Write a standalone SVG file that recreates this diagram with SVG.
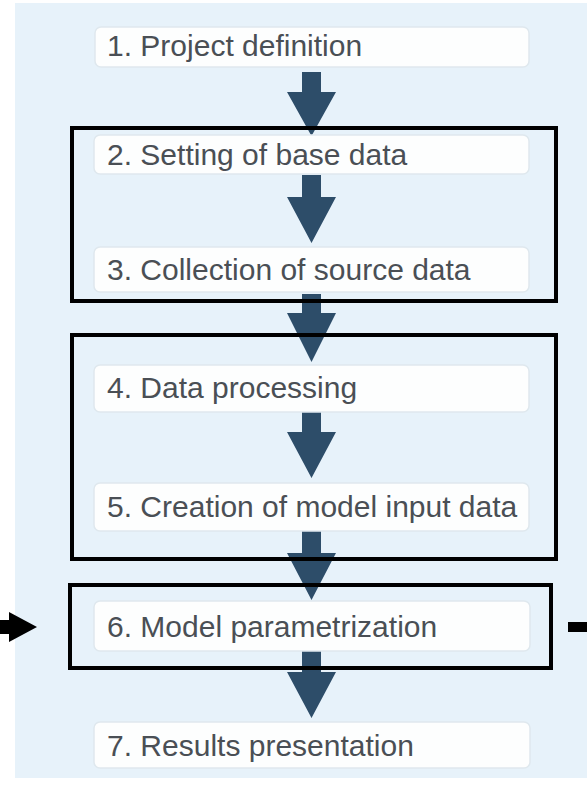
<svg xmlns="http://www.w3.org/2000/svg" width="587" height="788" viewBox="0 0 587 788">
<style>
.step{fill:#fdfefe;stroke:#dfe8ee;stroke-width:1.5}
.lbl{font-family:"Liberation Sans",Arial,sans-serif;font-size:30px;fill:#4a4f55}
.arr{fill:#2d4d69}
.grp{fill:none;stroke:#000;stroke-width:4}
</style>
<rect x="0" y="0" width="587" height="788" fill="#ffffff"/>
<rect x="15" y="3" width="572" height="775" fill="#e7f2fa"/>
<g id="connectors">
<polygon class="arr" points="302,72 321,72 321,92 336,92 311.5,136 287,92 302,92"/>
<polygon class="arr" points="302,175 321,175 321,197 336,197 311.5,243 287,197 302,197"/>
<polygon class="arr" points="302,294 321,294 321,313 336,313 311.5,362 287,313 302,313"/>
<polygon class="arr" points="302,412 321,412 321,432 336,432 311.5,478 287,432 302,432"/>
<polygon class="arr" points="302,531 321,531 321,553 336,553 311.5,600 287,553 302,553"/>
<polygon class="arr" points="302,651 321,651 321,672 336,672 311.5,718 287,672 302,672"/>
<polygon fill="#000" points="0,620 9,620 9,612 37,627 9,642 9,634 0,634"/>
<rect x="568" y="622" width="19" height="10" fill="#000"/>
</g>
<g id="n1"><rect class="step" x="95" y="27" width="434" height="40" rx="6"/><text class="lbl" x="107" y="56">1. Project definition</text></g>
<g id="n2"><rect class="step" x="94" y="135" width="435" height="39" rx="6"/><text class="lbl" x="107" y="165">2. Setting of base data</text></g>
<g id="n3"><rect class="step" x="94" y="247" width="435" height="45" rx="6"/><text class="lbl" x="107" y="280">3. Collection of source data</text></g>
<g id="n4"><rect class="step" x="94" y="365" width="435" height="47" rx="6"/><text class="lbl" x="107" y="398">4. Data processing</text></g>
<g id="n5"><rect class="step" x="94" y="483" width="435" height="48" rx="6"/><text class="lbl" x="107" y="517">5. Creation of model input data</text></g>
<g id="n6"><rect class="step" x="94" y="601" width="436" height="50" rx="6"/><text class="lbl" x="107" y="637">6. Model parametrization</text></g>
<g id="n7"><rect class="step" x="94" y="722" width="436" height="46" rx="6"/><text class="lbl" x="107" y="756">7. Results presentation</text></g>
<g id="groups">
<rect class="grp" x="72" y="128" width="484" height="173"/>
<rect class="grp" x="72" y="335" width="484" height="224"/>
<rect class="grp" x="70" y="585" width="481" height="83"/>
</g>
</svg>
